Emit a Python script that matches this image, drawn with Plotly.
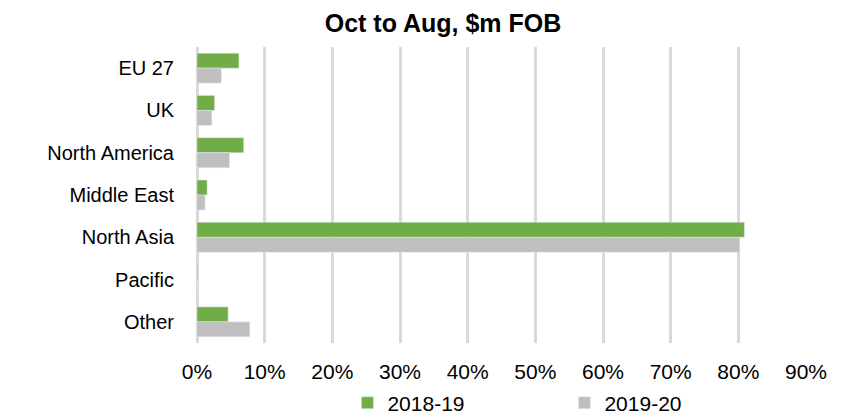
import plotly.graph_objects as go

categories = ["EU 27", "UK", "North America", "Middle East", "North Asia", "Pacific", "Other"]
series_2018_19 = [0.062, 0.026, 0.069, 0.015, 0.809, 0.001, 0.046]
series_2019_20 = [0.036, 0.022, 0.048, 0.012, 0.802, 0.0005, 0.078]
tick_vals = [i / 10 for i in range(10)]
tick_text = [f"{i*10}%" for i in range(10)]

fig = go.Figure()
fig.add_trace(go.Bar(y=categories, x=series_2018_19, orientation="h", name="2018-19",
                     marker=dict(color="#70ad47")))
fig.add_trace(go.Bar(y=categories, x=series_2019_20, orientation="h", name="2019-20",
                     marker=dict(color="#bfbfbf")))

fig.update_layout(
    width=850, height=415,
    margin=dict(l=197, r=44, t=47, b=72, autoexpand=False),
    paper_bgcolor="white", plot_bgcolor="white",
    barmode="group", bargap=0.29, bargroupgap=0,
    font=dict(family="Liberation Sans, Arial, sans-serif", size=20, color="#000000"),
    title=dict(text="<b>Oct to Aug, $m FOB</b>", x=443/850, xanchor="center", y=0.945, yanchor="middle",
               font=dict(size=25, color="#000000")),
    legend=dict(orientation="h", x=0.247, xanchor="left", y=-0.203, yanchor="middle",
                font=dict(size=21), traceorder="normal", entrywidth=172),
    showlegend=True,
)
fig.update_xaxes(range=[0, 0.9], tickvals=tick_vals, ticktext=tick_text,
                 tickfont=dict(size=21),
                 showgrid=True, gridcolor="#d9d9d9", gridwidth=3,
                 zeroline=True, zerolinecolor="#d9d9d9", zerolinewidth=3,
                 showline=False, ticks="outside", ticklen=10, tickcolor="rgba(0,0,0,0)",
                 automargin=False, fixedrange=True)
fig.update_yaxes(autorange="reversed", showgrid=False, showline=False,
                 ticks="outside", ticklen=18, tickcolor="rgba(0,0,0,0)", automargin=False)

fig.write_html("out.html", config={"displayModeBar": False},
               post_script="document.body.style.margin='0';")
